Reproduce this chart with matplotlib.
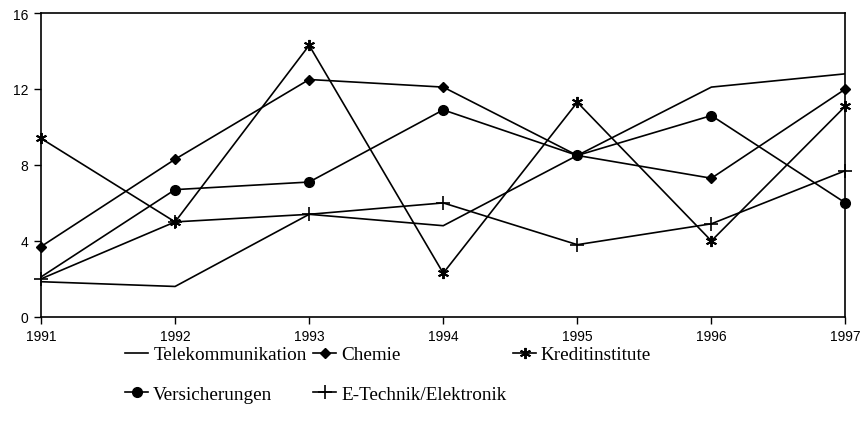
import matplotlib.pyplot as plt

years = [1991, 1992, 1993, 1994, 1995, 1996, 1997]

telekom = [1.85, 1.6, 5.4, 4.8, 8.5, 12.1, 12.8]
chemie = [3.7, 8.3, 12.5, 12.1, 8.5, 7.3, 12.0]
kredit = [9.4, 5.0, 14.3, 2.3, 11.3, 4.0, 11.1]
versicherungen = [2.1, 6.7, 7.1, 10.9, 8.5, 10.6, 6.0]
etechnik = [2.0, 5.0, 5.4, 6.0, 3.8, 4.9, 7.7]

fig = plt.figure(figsize=(8.65, 4.39), dpi=100)
ax = fig.add_axes([0.0474, 0.276, 0.930, 0.692])

lw = 1.2
l_tel, = ax.plot(years, telekom, color='black', lw=lw, label='Telekommunikation')
l_che, = ax.plot(years, chemie, color='black', lw=lw, marker='D', markersize=5,
                 label='Chemie', clip_on=False)
l_kre, = ax.plot(years, kredit, color='black', lw=lw, marker=(6, 2, 0), markersize=8,
                 markeredgewidth=1.4, label='Kreditinstitute', clip_on=False)
# no circle visible at 1991 in the source
l_ver, = ax.plot(years, versicherungen, color='black', lw=lw, marker='o', markersize=7,
                 markevery=slice(1, None), label='Versicherungen', clip_on=False)
l_ete, = ax.plot(years, etechnik, color='black', lw=lw, marker='+', markersize=10,
                 markeredgewidth=1.2, label='E-Technik/Elektronik', clip_on=False)

ax.set_xlim(1991, 1997)
ax.set_ylim(0, 16)
ax.set_xticks(years)
ax.set_yticks([0, 4, 8, 12, 16])
for lab in ax.get_xticklabels() + ax.get_yticklabels():
    lab.set_family('Liberation Sans')
    lab.set_fontsize(10)
ax.tick_params(direction='out', length=5, width=1, colors='black', pad=4)
for s in ax.spines.values():
    s.set_linewidth(1.2)

handles = [l_tel, l_ver, l_che, l_ete, l_kre]
fig.legend(handles=handles, labels=[h.get_label() for h in handles], ncol=3,
           loc='upper left', bbox_to_anchor=(0.145, 0.21), frameon=False,
           prop={'family': 'Liberation Serif', 'size': 13.8},
           handlelength=1.2, handletextpad=0.25, columnspacing=0.35,
           labelspacing=1.15, borderaxespad=0, borderpad=0)

fig.savefig('out.png', dpi=100)
